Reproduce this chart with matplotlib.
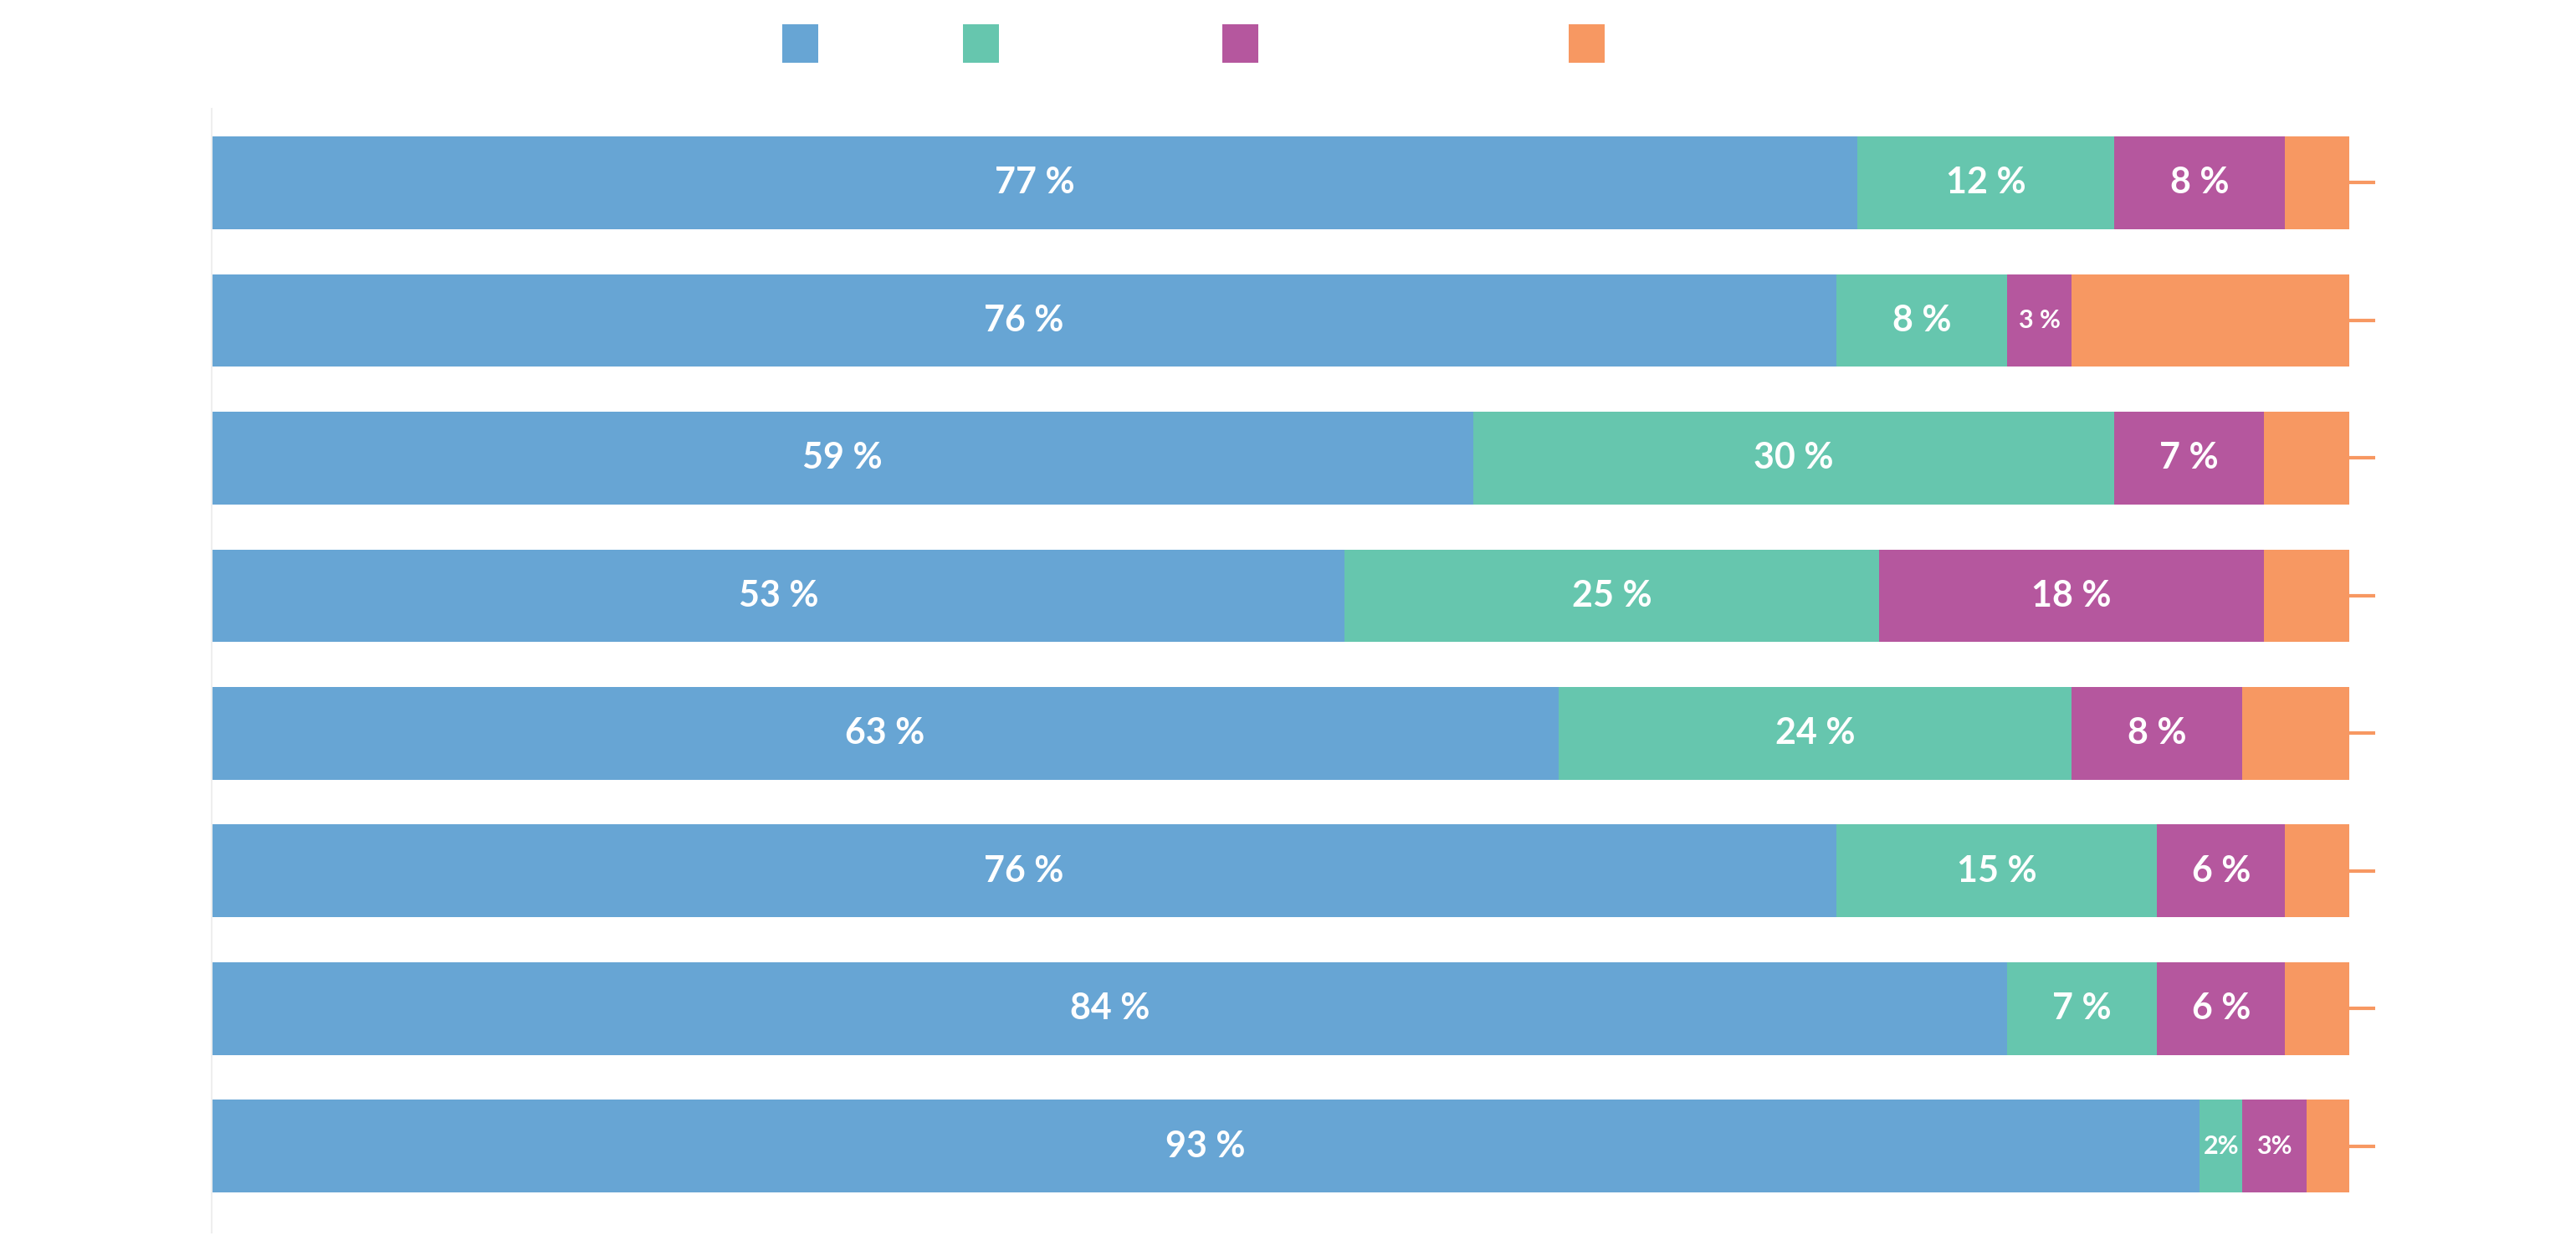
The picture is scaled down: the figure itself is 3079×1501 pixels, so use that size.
import numpy as np
import matplotlib.pyplot as plt
from matplotlib.patches import Rectangle

# values per row, top to bottom
seg_a = [77, 76, 59, 53, 63, 76, 84, 93]
seg_b = [12, 8, 30, 25, 24, 15, 7, 2]
seg_c = [8, 3, 7, 18, 8, 6, 6, 3]
seg_d = [3, 13, 4, 4, 5, 3, 3, 2]
colors = ['#67a5d4', '#66c6ae', '#b5579e', '#f79862']

W, H = 3079, 1501
fig = plt.figure(figsize=(W / 100, H / 100), dpi=100)
ax = fig.add_axes([129 / 1568, 1 - 750 / 764, (1430 - 129) / 1568, (750 - 66) / 764])

n = len(seg_a)
y = np.arange(n)[::-1]
left = np.zeros(n)
for k, vals in enumerate([seg_a, seg_b, seg_c, seg_d]):
    vals = np.array(vals, dtype=float)
    ax.barh(y, vals, left=left, height=0.674, color=colors[k], linewidth=0)
    if k < 3:
        for yi, l, v in zip(y, left, vals):
            fs = 22 if v <= 3 and k > 0 else 31
            if k > 0 and v <= 3:
                txt = f'{int(v)}%' if v == 2 or (k == 2 and seg_b[n - 1 - yi] <= 3) else f'{int(v)} %'
            else:
                txt = f'{int(v)} %'
            ax.text(l + v / 2, yi, txt, ha='center', va='center', color='white',
                    fontsize=fs, fontweight='bold', family='Lato')
    left += vals

ax.set_xlim(0, 100)
ax.set_ylim(-0.5 - 0.13, n - 0.5 + 0.04)
for s in ['top', 'bottom', 'right']:
    ax.spines[s].set_visible(False)
ax.spines['left'].set_color('#eeeeee')
ax.spines['left'].set_linewidth(1.5)
ax.set_xticks([])
ax.yaxis.tick_right()
ax.set_yticks(y)
ax.set_yticklabels([])
ax.tick_params(axis='y', colors='#f79862', length=22, width=3, pad=0)

# legend swatches (labels blank in reference)
for cx, c in zip([487, 597, 755, 966], colors):
    fig.add_artist(Rectangle(((cx - 11) / 1568, 1 - 38 / 764), 22 / 1568, 23 / 764,
                             transform=fig.transFigure, color=c, linewidth=0))

fig.savefig('out.png', dpi=100)
